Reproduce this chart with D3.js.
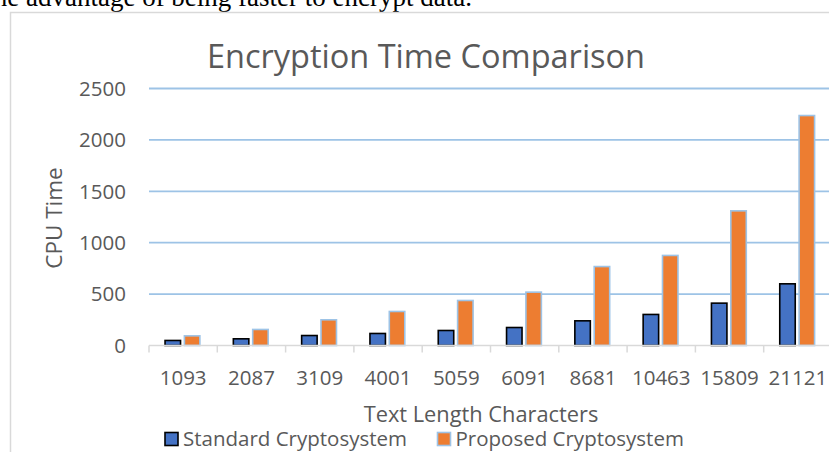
<!DOCTYPE html>
<html>
<head>
<meta charset="utf-8">
<script src="https://cdn.jsdelivr.net/npm/d3@7"></script>
<style>
  body { margin: 0; background: #fff; }
  svg { display: block; }
  text { font-family: "Open Sans", sans-serif; fill: #595959; }
</style>
</head>
<body>
<svg width="829" height="452"></svg>
<script>
// Datos
let categorias = ['1093', '2087', '3109', '4001', '5059', '6091', '8681', '10463', '15809', '21121']
let estandar = [49, 65, 97, 117, 146, 175, 240, 302, 412, 600]
let propuesto = [94, 156, 250, 331, 438, 519, 768, 876, 1310, 2237]
let series = ['Standard Cryptosystem', 'Proposed Cryptosystem']
let ticks_y = [0, 500, 1000, 1500, 2000, 2500]

let svg = d3.select('svg')

// texto del documento, cortado arriba
svg.append('text')
  .attr('x', 472).attr('y', 6)
  .attr('text-anchor', 'end')
  .style('font-family', '"Liberation Serif", serif')
  .style('font-size', '27px')
  .style('fill', '#000')
  .text('the advantage of being faster to encrypt data.')

// marco del grafico
svg.append('path')
  .attr('d', 'M10.5,452 V12.5 H829')
  .attr('fill', 'none')
  .attr('stroke', '#d9d9d9')
  .attr('stroke-width', 1.5)

let x0 = d3.scaleBand().domain(categorias).range([149, 832]).padding(0)
let x1 = d3.scaleBand().domain([0, 1])
  .range([x0.bandwidth() * 0.235, x0.bandwidth() * 0.745])
  .paddingInner(0.2)
let y = d3.scaleLinear().domain([0, 2500]).range([345.5, 88.5])

// grilla
svg.append('g').selectAll('line')
  .data(ticks_y.slice(1)).enter().append('line')
    .attr('x1', 149).attr('x2', 829)
    .attr('y1', d => y(d)).attr('y2', d => y(d))
    .attr('stroke', '#9dc3e6')
    .attr('stroke-width', 1.8)

// eje y
svg.append('g').selectAll('text')
  .data(ticks_y).enter().append('text')
    .attr('x', 126).attr('y', d => y(d))
    .attr('dy', '0.36em')
    .attr('text-anchor', 'end')
    .style('font-size', '20.5px')
    .text(d => d)

// barras
let colores = ['#4472c4', '#ed7d31']
let bordes = ['#000', '#9dc3e6']
let grupos = svg.append('g').selectAll('g')
  .data(categorias.map((c, i) => ({c, v: [estandar[i], propuesto[i]]})))
  .enter().append('g')
    .attr('transform', d => `translate(${x0(d.c)},0)`)

grupos.selectAll('rect')
  .data(d => d.v).enter().append('rect')
    .attr('x', (d, i) => x1(i))
    .attr('y', d => y(d))
    .attr('width', x1.bandwidth())
    .attr('height', d => y(0) - y(d))
    .attr('fill', (d, i) => colores[i])
    .attr('stroke', (d, i) => bordes[i])
    .attr('stroke-width', 1.6)

// eje x
let ejex = svg.append('g')
ejex.append('line')
  .attr('x1', 149).attr('x2', 829)
  .attr('y1', y(0)).attr('y2', y(0))
  .attr('stroke', '#d9d9d9').attr('stroke-width', 1.5)
ejex.selectAll('line.tick')
  .data(categorias).enter().append('line')
    .attr('class', 'tick')
    .attr('x1', d => x0(d)).attr('x2', d => x0(d))
    .attr('y1', y(0)).attr('y2', y(0) + 7)
    .attr('stroke', '#d9d9d9').attr('stroke-width', 1.5)
ejex.selectAll('text')
  .data(categorias).enter().append('text')
    .attr('x', d => x0(d) + x0.bandwidth() / 2)
    .attr('y', 385)
    .attr('text-anchor', 'middle')
    .style('font-size', '20.5px')
    .text(d => d)

// titulos
svg.append('text')
  .attr('x', 426).attr('y', 68)
  .attr('text-anchor', 'middle')
  .style('font-size', '32.5px')
  .text('Encryption Time Comparison')

svg.append('text')
  .attr('x', 481).attr('y', 422)
  .attr('text-anchor', 'middle')
  .style('font-size', '21.8px')
  .text('Text Length Characters')

svg.append('text')
  .attr('transform', 'translate(62,218) rotate(-90)')
  .attr('text-anchor', 'middle')
  .style('font-size', '22.5px')
  .text('CPU Time')

// leyenda
let leyenda = svg.append('g').selectAll('g')
  .data(series).enter().append('g')
    .attr('transform', (d, i) => `translate(${[165, 437.5][i]},432.5)`)
leyenda.append('rect')
  .attr('width', 13).attr('height', 13)
  .attr('fill', (d, i) => colores[i])
  .attr('stroke', (d, i) => bordes[i])
  .attr('stroke-width', 1.6)
leyenda.append('text')
  .attr('x', 18).attr('y', 13.5)
  .style('font-size', '20.5px')
  .text(d => d)
</script>
</body>
</html>
